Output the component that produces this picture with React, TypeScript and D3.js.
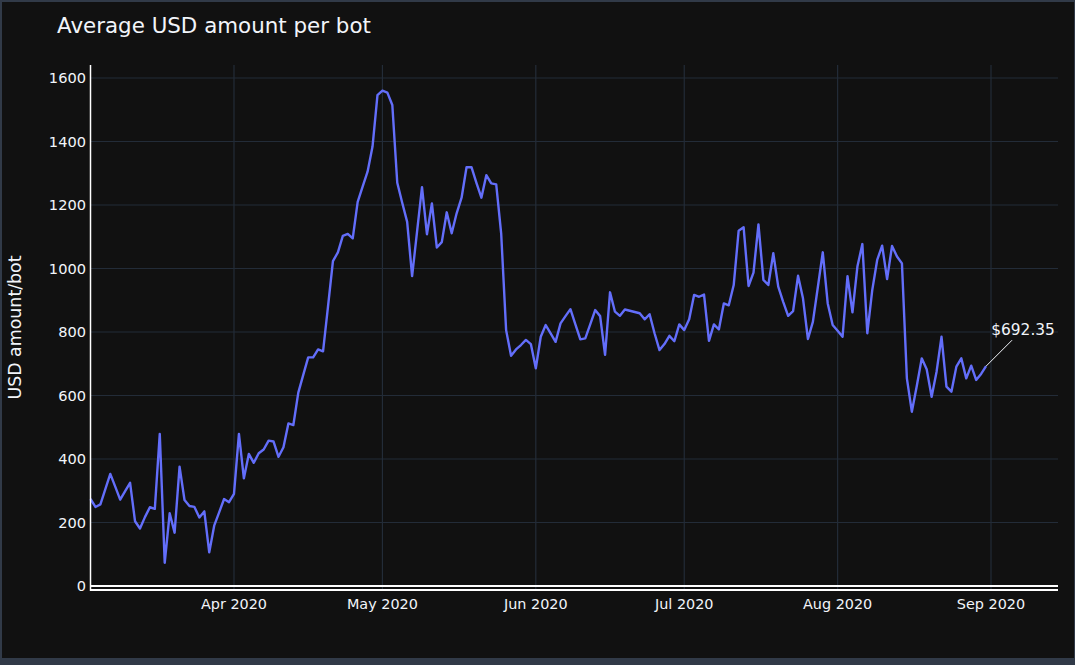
import React from "react";
import * as d3 from "d3";

const START_DATE = "2020-03-03";
const VALUES: number[] = [
  274, 249, 257, 305, 353, 313, 272, 299, 325, 204,
  181, 217, 248, 243, 479, 73, 229, 168, 376, 271,
  252, 249, 216, 235, 106, 190, 232, 274, 264, 290,
  479, 339, 416, 388, 418, 430, 458, 455, 407, 437,
  512, 507, 609, 665, 720, 720, 745, 739, 880, 1023,
  1051, 1103, 1109, 1095, 1210, 1258, 1305, 1384, 1546, 1560,
  1554, 1515, 1270, 1207, 1147, 976, 1116, 1256, 1108, 1205,
  1066, 1083, 1177, 1111, 1174, 1223, 1319, 1319, 1270, 1223,
  1294, 1268, 1265, 1111, 806, 725, 745, 759, 775, 762,
  686, 785, 822, 796, 769, 827, 850, 872, 824, 777,
  780, 824, 869, 850, 728, 925, 864, 851, 871, 867,
  863, 859, 840, 856, 796, 743, 762, 788, 771, 824,
  806, 840, 917, 911, 918, 772, 824, 808, 890, 884,
  948, 1119, 1130, 945, 987, 1139, 964, 948, 1048, 943,
  895, 851, 866, 977, 906, 778, 832, 941, 1051, 890,
  822, 804, 785, 976, 862, 1006, 1077, 796, 932, 1027,
  1072, 967, 1071, 1038, 1016, 654, 549, 630, 717, 683,
  596, 675, 785, 628, 612, 691, 717, 654, 694, 649,
  668, 692.35,
];
const Y_TICKS = [0, 200, 400, 600, 800, 1000, 1200, 1400, 1600];
const X_TICKS = ["2020-04-01", "2020-05-01", "2020-06-01", "2020-07-01", "2020-08-01", "2020-09-01"];
const X_DOMAIN = ["2020-03-03T00:00:00Z", "2020-09-14T13:00:00Z"];
const Y_DOMAIN = [-12.6, 1641];
const TITLE = "Average USD amount per bot";
const Y_TITLE = "USD amount/bot";
const ANNOTATION = "$692.35";

const W = 1075;
const H = 665;
const FONT = "'DejaVu Sans', Verdana, sans-serif";
const TEXT = "#f2f5fa";
const GRID = "#232c38";

export default function App() {
  const start = new Date(START_DATE + "T00:00:00Z");
  const data = VALUES.map((v, i) => ({ date: d3.utcDay.offset(start, i), value: v }));
  const left = 90.5, right = 1058, top = 65, bottom = 590;
  const x = d3.scaleUtc().domain(X_DOMAIN.map((d) => new Date(d))).range([left, right]);
  const y = d3.scaleLinear().domain(Y_DOMAIN).range([bottom, top]);
  const line = d3
    .line<{ date: Date; value: number }>()
    .x((d) => x(d.date))
    .y((d) => y(d.value));
  const fmt = d3.utcFormat("%b %Y");
  const last = data[data.length - 1];
  const lx = x(last.date), ly = y(last.value);

  return (
    <div style={{ position: "absolute", left: 0, top: 0, width: W, height: H }}>
      <svg width={W} height={H} style={{ display: "block" }}>
        <rect x={0} y={0} width={W} height={H} fill="#313a48" />
        <rect x={2} y={2} width={1072} height={656} fill="#111111" />
        {Y_TICKS.map((t) => (
          <line key={"gy" + t} x1={left} x2={right} y1={y(t)} y2={y(t)} stroke={GRID} strokeWidth={1.2} />
        ))}
        {X_TICKS.map((t) => {
          const px = x(new Date(t + "T00:00:00Z"));
          return <line key={"gx" + t} x1={px} x2={px} y1={top} y2={bottom} stroke={GRID} strokeWidth={1.2} />;
        })}
        <path d={line(data) || ""} fill="none" stroke="#636efa" strokeWidth={2.4} strokeLinejoin="round" />
        <line x1={left} x2={right} y1={y(0)} y2={y(0)} stroke="#ffffff" strokeWidth={2} />
        <line x1={left} x2={right} y1={bottom} y2={bottom} stroke="#ffffff" strokeWidth={2} />
        <line x1={left} x2={left} y1={top} y2={bottom + 1} stroke="#ffffff" strokeWidth={1.5} />
        {Y_TICKS.map((t) => (
          <text key={"ty" + t} x={86} y={y(t)} dy="0.36em" textAnchor="end" fontFamily={FONT} fontSize={14.6} fill={TEXT}>
            {t}
          </text>
        ))}
        {X_TICKS.map((t) => {
          const d = new Date(t + "T00:00:00Z");
          return (
            <text key={"tx" + t} x={x(d)} y={609} textAnchor="middle" fontFamily={FONT} fontSize={14.4} fill={TEXT}>
              {fmt(d)}
            </text>
          );
        })}
        <text x={57} y={33} fontFamily={FONT} fontSize={21.4} fill={TEXT}>
          {TITLE}
        </text>
        <text
          transform={`translate(15,${(top + bottom) / 2}) rotate(-90)`}
          textAnchor="middle"
          dy="0.36em"
          fontFamily={FONT}
          fontSize={17.4}
          fill={TEXT}
        >
          {Y_TITLE}
        </text>
        <line x1={lx} y1={ly} x2={lx + 26} y2={ly - 26} stroke="#f2f5fa" strokeWidth={1} />
        <text x={lx + 37} y={ly - 31} textAnchor="middle" fontFamily={FONT} fontSize={15.4} fill={TEXT}>
          {ANNOTATION}
        </text>
      </svg>
    </div>
  );
}
